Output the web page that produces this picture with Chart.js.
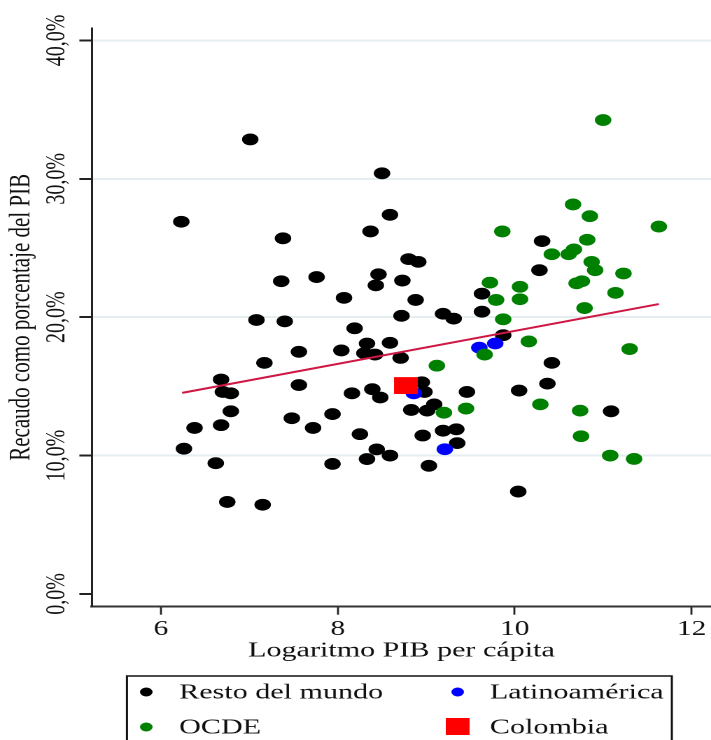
<!DOCTYPE html>
<html>
<head>
<meta charset="utf-8">
<script src="https://cdn.jsdelivr.net/npm/chart.js@4.4.1/dist/chart.umd.min.js"></script>
<style>
  html, body { margin: 0; padding: 0; background: #fff; overflow: hidden; }
  /* the original figure is stretched sideways, so draw narrow and widen */
  #wrap { width: 508px; height: 740px; transform: scaleX(1.39961); transform-origin: 0 0; }
</style>
</head>
<body>
<div id="wrap"><canvas id="chart"></canvas></div>
<script>
// Resto del mundo
const restoX = [6.23, 7.01, 7.38, 7.36, 7.76, 7.08, 7.40, 8.07, 8.19, 7.56, 8.04, 7.17, 6.68, 6.70, 6.79, 7.56,
  6.79, 6.68, 6.38, 7.48, 7.72, 7.94, 6.26, 6.62, 7.94, 6.75, 7.15, 8.50, 8.59, 8.37, 8.80, 8.91, 8.46, 8.43,
  8.73, 8.88, 9.63, 9.63, 8.72, 9.19, 9.31, 10.31, 10.28, 9.87, 8.33, 8.30, 8.42, 8.59, 8.71, 8.95, 8.98, 8.16,
  8.39, 8.48, 9.46, 10.05, 8.83, 9.01, 9.09, 8.25, 8.96, 9.19, 9.34, 9.35, 8.44, 8.33, 8.59, 9.03, 10.04, 10.42,
  10.37, 11.09];
const restoY = [26.9, 32.85, 25.7, 22.6, 22.9, 19.8, 19.7, 21.4, 19.2, 17.5, 17.6, 16.7, 15.5, 14.6, 14.5, 15.1,
  13.2, 12.2, 12.0, 12.7, 12.0, 13.0, 10.5, 9.45, 9.4, 6.65, 6.45, 30.4, 27.4, 26.2, 24.2, 24.0, 23.1, 22.3,
  22.65, 21.25, 21.7, 20.4, 20.1, 20.25, 19.9, 25.5, 23.4, 18.7, 18.1, 17.4, 17.3, 18.15, 17.06, 15.3, 14.6, 14.5,
  14.8, 14.2, 14.6, 14.7, 13.3, 13.25, 13.7, 11.55, 11.45, 11.8, 11.9, 10.9, 10.45, 9.75, 10.0, 9.26, 7.4, 16.7,
  15.2, 13.2];

// Latinoamérica
const latamX = [9.78, 9.60, 8.86, 9.21];
const latamY = [18.1, 17.8, 14.5, 10.46];

// OCDE
const ocdeX = [11.00, 10.66, 10.85, 11.63, 10.82, 10.42, 10.61, 10.67, 10.87, 10.91, 11.23, 10.70, 10.76, 11.14,
  10.06, 10.06, 10.79, 9.86, 9.72, 9.79, 9.87, 10.16, 11.30, 9.66, 9.12, 9.20, 9.45, 10.29, 10.74, 10.75, 11.08, 11.35];
const ocdeY = [34.25, 28.15, 27.3, 26.55, 25.6, 24.55, 24.55, 24.9, 24.0, 23.4, 23.16, 22.45, 22.6, 21.76,
  22.2, 21.3, 20.66, 26.2, 22.5, 21.25, 19.85, 18.25, 17.7, 17.3, 16.5, 13.1, 13.4, 13.7, 13.25, 11.4, 10.0, 9.76];

// Colombia
const colX = [8.77];
const colY = [15.06];

// fitted line
const trendX = [6.24, 11.63];
const trendY = [14.53, 20.95];

const xTicks = [6, 8, 10, 12];
const yTicks = [0, 10, 20, 30, 40];
const yTickLabels = ['0,0%', '10,0%', '20,0%', '30,0%', '40,0%'];

const serif = "'Liberation Serif', 'Times New Roman', serif";

const pts = (xs, ys) => xs.map((x, i) => ({ x: x, y: ys[i] }));

// rotated y tick labels
const yLabelsPlugin = {
  id: 'yLabels',
  afterDraw(chart) {
    const { ctx } = chart;
    const scale = chart.scales.y;
    ctx.save();
    ctx.fillStyle = '#111';
    ctx.font = '20px ' + serif;
    ctx.textAlign = 'center';
    ctx.textBaseline = 'alphabetic';
    yTicks.forEach((v, i) => {
      const y = scale.getPixelForValue(v);
      ctx.save();
      ctx.translate(46, y);
      ctx.rotate(-Math.PI / 2);
      ctx.fillText(yTickLabels[i], 0, 0);
      ctx.restore();
    });
    ctx.restore();
  }
};

// boxed two-column legend
const boxLegend = {
  id: 'boxLegend',
  afterDraw(chart) {
    const { ctx } = chart;
    const box = { left: 90.7, top: 676, right: 480, bottom: 748 };
    const markX = [104.5, 327];
    const textX = [128, 350];
    const rowY = [692, 727];
    ctx.save();
    ctx.strokeStyle = '#111';
    ctx.lineWidth = 1.5;
    ctx.strokeRect(box.left, box.top, box.right - box.left, box.bottom - box.top);
    ctx.font = '21.5px ' + serif;
    ctx.textBaseline = 'middle';
    ctx.textAlign = 'left';
    chart.data.datasets.filter(d => d.inLegend).forEach((ds, i) => {
      const col = i % 2, row = Math.floor(i / 2);
      const mx = markX[col], my = rowY[row];
      ctx.fillStyle = ds.backgroundColor;
      if (ds.pointStyle === 'rect') {
        ctx.fillRect(mx - 8.5, my - 9, 17, 17);
      } else {
        ctx.beginPath();
        ctx.arc(mx, my, 4.5, 0, Math.PI * 2);
        ctx.fill();
      }
      ctx.fillStyle = '#111';
      ctx.fillText(ds.label, textX[col], my + 1);
    });
    ctx.restore();
  }
};

new Chart(document.getElementById('chart'), {
  type: 'scatter',
  data: {
    datasets: [
      { label: 'Resto del mundo', data: pts(restoX, restoY), backgroundColor: '#000000', pointStyle: 'circle',
        pointRadius: 5.9, borderWidth: 0, order: 4, inLegend: true },
      { label: 'Latinoamérica', data: pts(latamX, latamY), backgroundColor: '#0000ff', pointStyle: 'circle',
        pointRadius: 5.9, borderWidth: 0, order: 3, inLegend: true },
      { label: 'OCDE', data: pts(ocdeX, ocdeY), backgroundColor: '#008000', pointStyle: 'circle',
        pointRadius: 5.9, borderWidth: 0, order: 2, inLegend: true },
      { label: 'Colombia', data: pts(colX, colY), backgroundColor: '#ff0000', pointStyle: 'rect',
        pointRadius: 12, borderWidth: 0, order: 0, inLegend: true },
      { type: 'line', label: 'Ajuste', data: pts(trendX, trendY), borderColor: '#cf1744', borderWidth: 2,
        pointRadius: 0, fill: false, order: 1 }
    ]
  },
  options: {
    responsive: true,
    maintainAspectRatio: false,
    animation: false,
    devicePixelRatio: 2,
    layout: { autoPadding: false, padding: { top: 28, left: 0, right: 0, bottom: 0 } },
    plugins: { legend: { display: false }, tooltip: { enabled: false } },
    scales: {
      x: {
        type: 'linear',
        min: 5.22,
        max: 12.22,
        afterBuildTicks: (axis) => { axis.ticks = xTicks.map(v => ({ value: v })); },
        afterFit: (axis) => { axis.height = 133.3; axis.paddingLeft = 0; axis.paddingRight = 0; },
        grid: { drawOnChartArea: false, drawTicks: true, tickLength: 8, tickColor: '#222', tickWidth: 1.4 },
        border: { color: '#333', width: 2 },
        ticks: { color: '#111', font: { family: serif, size: 21 }, padding: 2, maxRotation: 0 },
        title: {
          display: true,
          text: 'Logaritmo PIB per cápita',
          color: '#111',
          font: { family: serif, size: 21.5, lineHeight: 1.2 },
          padding: { top: 0, bottom: 76 }
        }
      },
      y: {
        type: 'linear',
        min: -0.92,
        max: 40.9,
        afterBuildTicks: (axis) => { axis.ticks = yTicks.map(v => ({ value: v })); },
        afterFit: (axis) => { axis.width = 65.7; axis.paddingTop = 0; axis.paddingBottom = 0; },
        grid: {
          color: (c) => (c.tick && c.tick.value === 0 ? 'rgba(0,0,0,0)' : '#e4edf0'),
          lineWidth: 2,
          tickLength: 9,
          tickColor: '#222',
          tickWidth: 2
        },
        border: { color: '#222', width: 1.5 },
        ticks: { display: false },
        title: {
          display: true,
          text: 'Recaudo como porcentaje del PIB',
          color: '#111',
          font: { family: serif, size: 21, lineHeight: 1.2 },
          padding: { top: 3, bottom: 0 }
        }
      }
    }
  },
  plugins: [yLabelsPlugin, boxLegend]
});
</script>
</body>
</html>
